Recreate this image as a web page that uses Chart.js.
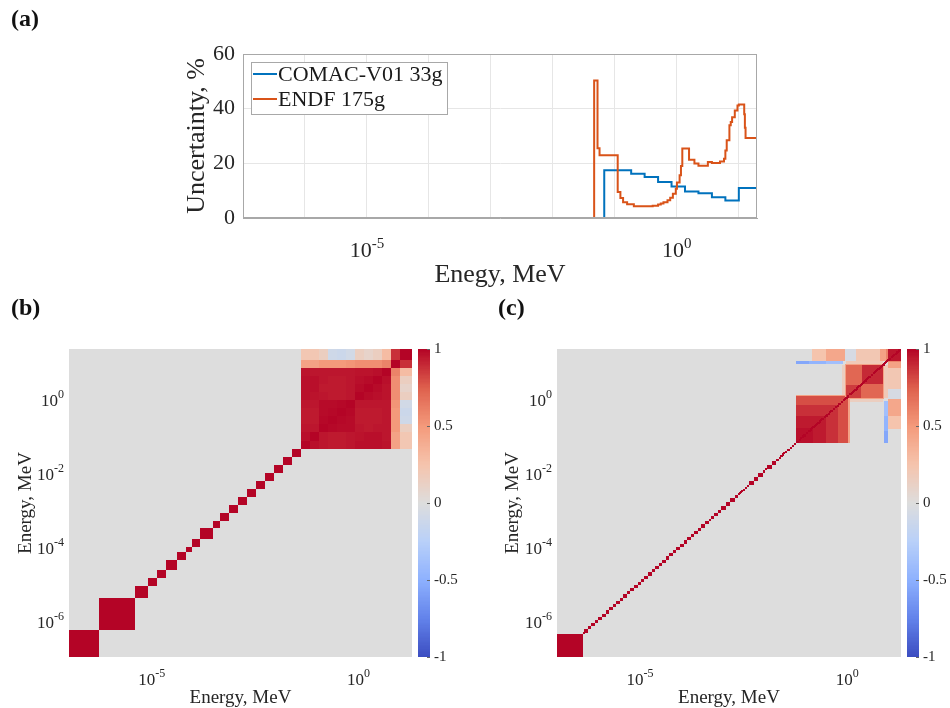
<!DOCTYPE html>
<html><head><meta charset="utf-8">
<script src="https://cdn.jsdelivr.net/npm/chart.js@4.4.1/dist/chart.umd.min.js"></script>
<style>
html,body{margin:0;padding:0;background:#fff;overflow:hidden;}
#wrap{position:relative;width:950px;height:708px;background:#fff;}
#wrap canvas{position:absolute;}
.plab{position:absolute;font-family:'Liberation Serif','DejaVu Serif',serif;font-weight:bold;font-size:24px;line-height:24px;color:#111;}
</style></head>
<body><div id="wrap">
<canvas id="cA" width="950" height="300" style="left:0;top:0"></canvas>
<canvas id="cB" width="480" height="418" style="left:0;top:290px"></canvas>
<canvas id="cC" width="470" height="418" style="left:480px;top:290px"></canvas>
<div class="plab" style="left:11px;top:6px">(a)</div>
<div class="plab" style="left:11px;top:295px">(b)</div>
<div class="plab" style="left:498px;top:295px">(c)</div>
</div>
<script>
// ---------------- DATA ----------------
// (a) group-wise uncertainty, stairs: lower group edge (MeV) -> uncertainty (%)
const energyCOMAC = [1e-7, 0.067379, 0.11109, 0.18316, 0.30197, 0.49787, 0.82085, 1.3534, 2.2313, 3.6788, 6.0653, 10.0, 19.64];
const uncCOMAC    = [0,    17.5,     17.5,    16.2,    15.0,    13.2,    11.5,    9.7,    9.1,    7.6,    6.4,    11.0, 15.0];
const energyENDF  = [1e-7, 0.046309, 0.052475, 0.056562, 0.11109, 0.12277, 0.13569, 0.15764, 0.20242, 0.40762, 0.49787, 0.55023, 0.6081, 0.70651, 0.78082, 0.86294, 0.96164, 1.0026, 1.108, 1.1648, 1.2246, 1.5724, 1.9205, 2.2313, 3.1664, 3.6788, 4.9659, 5.7695, 6.0653, 6.3763, 7.0469, 7.4082, 7.788, 8.6071, 9.5123, 10.0, 12.214, 12.523, 12.84, 19.64];
const uncENDF     = [0,    50.3,     25.5,     23.0,     9.5,     7.3,     5.8,     5.0,     4.3,     4.5,     4.9,     5.3,     5.8,    6.5,     7.4,     8.9,     10.7,    13.0,   15.6,  19.0,   25.4,   21.3,   19.9,   19.1,   20.5,   20.1,   20.7,   21.7,   24.7,   28.4,   33.9,   35.1,   36.9,  39.3,   41.2,   41.5, 38.0,   33.0,   29.3, 29.0];
const seriesNames = ['COMAC-V01 33g', 'ENDF 175g'];

// tick labels
const gridDecadesA = [1e-7, 1e-6, 1e-5, 1e-4, 1e-3, 1e-2, 1e-1, 1, 10];
const xTickLabelsA = [1e-5, 1];
const yTicksA = [0, 20, 40, 60];
const xTicksHeat = [1e-5, 1];
const yTicksHeat = [1e-6, 1e-4, 1e-2, 1];
const cbTicks = [-1, -0.5, 0, 0.5, 1];
const energyMin = 1e-7, energyMax = 19.64;

// (b) 33-group edges (eV), identity below 40.9 keV, correlated block above
const edgesB_eV = [1e-5, 0.1, 0.54, 4.0, 8.3153, 13.71, 22.603, 40.169, 67.904, 91.661, 148.63, 304.32, 454.0, 748.52, 1234.1, 2034.7, 3354.6, 5530.8, 9118.8, 15034, 24788, 40868, 67379, 111090, 183160, 301970, 497870, 820850, 1353400, 2231300, 3678800, 6065300, 1.0e7, 1.964e7];
const blockStartB = 21; // first group of correlated block
const corrBlockB = [
  [1.00, 0.97, 0.95, 0.94, 0.94, 0.95, 0.97, 0.97, 0.97, 0.96, 0.45, 0.22],
  [0.97, 1.00, 0.95, 0.94, 0.94, 0.95, 0.96, 0.97, 0.97, 0.95, 0.45, 0.22],
  [0.95, 0.95, 1.00, 0.99, 0.98, 0.98, 0.95, 0.94, 0.95, 0.95, 0.50, 0.15],
  [0.94, 0.94, 0.99, 1.00, 0.99, 0.98, 0.94, 0.94, 0.94, 0.95, 0.50, -0.10],
  [0.94, 0.94, 0.98, 0.99, 1.00, 0.99, 0.94, 0.94, 0.94, 0.95, 0.50, -0.12],
  [0.95, 0.95, 0.98, 0.98, 0.99, 1.00, 0.95, 0.95, 0.95, 0.95, 0.52, -0.08],
  [0.97, 0.96, 0.95, 0.94, 0.94, 0.95, 1.00, 0.98, 0.97, 0.96, 0.55, 0.15],
  [0.97, 0.97, 0.94, 0.94, 0.94, 0.95, 0.98, 1.00, 0.98, 0.96, 0.55, 0.10],
  [0.97, 0.97, 0.95, 0.94, 0.94, 0.95, 0.97, 0.98, 1.00, 0.97, 0.55, 0.15],
  [0.96, 0.95, 0.95, 0.95, 0.95, 0.95, 0.96, 0.96, 0.97, 1.00, 0.60, 0.30],
  [0.45, 0.45, 0.50, 0.50, 0.50, 0.52, 0.55, 0.55, 0.55, 0.60, 1.00, 0.88],
  [0.22, 0.22, 0.15, -0.10, -0.12, -0.08, 0.15, 0.10, 0.15, 0.30, 0.88, 1.00]
];
const selfCorr = 1;

// (c) 175-group edges (eV)
const edgesC_eV = [1e-5, 0.41399, 0.4536, 0.5526, 0.6732, 0.8201, 0.99909, 1.2171, 1.4828, 1.8064, 2.2007, 2.6809, 3.2661, 3.9789, 4.8473, 5.9053, 7.1941, 8.7643, 10.677, 12.829, 15.629, 19.04, 23.195, 28.257, 34.425, 41.937, 51.09, 62.241, 75.826, 92.379, 112.54, 137.1, 168.32, 205.05, 249.8, 304.32, 370.74, 454.0, 504.35, 614.42, 748.52, 911.88, 1170.9, 1503.4, 1930.5, 2248.7, 2485.2, 2612.6, 2746.5, 3035.4, 3354.6, 3707.4, 4307.4, 5530.8, 7101.7, 9118.8, 10595, 11709, 15034, 19305, 21875, 23579, 24176, 24788, 26058, 27000, 28501, 31828, 34307, 40868, 46309, 52475, 56562, 67379, 71998, 79499, 82503, 86517, 98037, 111090, 116790, 122770, 129070, 135690, 142640, 149960, 157640, 165730, 174220, 183160, 192550, 202420, 212800, 223710, 235180, 247240, 273240, 287250, 294520, 297210, 298490, 301970, 333730, 368830, 387740, 407620, 450490, 497870, 550230, 608100, 706510, 780820, 820850, 862940, 907180, 961640, 1002600, 1108000, 1164800, 1224600, 1287300, 1353400, 1422700, 1495700, 1572400, 1653000, 1737700, 1826800, 1920500, 2019000, 2122500, 2231300, 2306900, 2345700, 2365300, 2385200, 2466000, 2592400, 2725300, 2865000, 3011900, 3166400, 3328700, 3678800, 4065700, 4493300, 4723700, 4965900, 5220500, 5488100, 5769500, 6065300, 6376300, 6592400, 6703200, 7046900, 7408200, 7788000, 8187300, 8607100, 9048400, 9512300, 10000000, 11052000, 12214000, 12523000, 12840000, 13840000, 14550000, 14918000, 15683000, 16487000, 16905000, 17333000, 19640000];
// (c) off-diagonal correlation regions [xLo, xHi, yLo, yHi (MeV), correlation] (matrix symmetric)
const regionsC = [
  [0.14, 0.3, 9.6, 19.64, 0.25],
  [0.3, 0.9, 9.6, 19.64, 0.42],
  [0.9, 1.6, 9.6, 19.64, -0.05],
  [1.6, 6.0, 9.6, 19.64, 0.22],
  [6.0, 9.6, 9.6, 19.64, 0.45],
  [7.3, 9.6, 0.95, 7.3, 0.20],
  [0.95, 7.3, 0.75, 0.95, 0.15],
  [0.0566, 1.15, 0.0566, 1.15, 0.45],
  [0.0566, 1.05, 0.0566, 1.05, 0.80],
  [0.0566, 0.6, 0.0566, 0.6, 0.88],
  [0.0566, 0.3, 0.0566, 0.3, 0.94],
  [0.0566, 0.15, 0.0566, 0.15, 0.97],
  [0.88, 7.8, 0.88, 7.8, 0.45],
  [0.95, 7.3, 0.95, 7.3, 0.72],
  [0.95, 2.1, 0.95, 2.1, 0.85],
  [2.3, 7.3, 2.3, 7.3, 0.90],
  [8.6, 19.64, 8.6, 19.64, 0.60],
  [9.6, 19.64, 9.6, 19.64, 0.95],
  [0.0566, 0.12, 7.8, 9.6, -0.55],
  [0.12, 0.3, 7.8, 9.6, -0.47],
  [0.3, 0.8, 7.8, 9.6, -0.38]
];

// ---------------- STYLE ----------------
const FONT = "'Liberation Serif','DejaVu Serif',serif";
Chart.defaults.font.family = FONT;
Chart.defaults.color = '#262626';
Chart.defaults.animation = false;
const coolwarm = [[59,76,192],[98,130,234],[141,176,254],[184,208,249],[221,221,221],[245,196,173],[244,154,123],[222,96,77],[180,4,38]];
function corrColor(v){
  let t = Math.max(0, Math.min(1, (v + 1) / 2)) * 8;
  const i = Math.min(7, Math.floor(t)), f = t - i, a = coolwarm[i], b = coolwarm[i+1];
  return 'rgb(' + Math.round(a[0]+(b[0]-a[0])*f) + ',' + Math.round(a[1]+(b[1]-a[1])*f) + ',' + Math.round(a[2]+(b[2]-a[2])*f) + ')';
}

// power-of-ten tick labels "10" with raised exponent, placed through the scales
function powTicks(specs){
  return {
    id: 'powTicks',
    afterDraw(chart){
      const ctx = chart.ctx;
      ctx.save();
      ctx.fillStyle = '#262626'; ctx.textBaseline = 'alphabetic'; ctx.textAlign = 'left';
      specs.forEach(sp => {
        const sc = chart.scales[sp.axis];
        sp.values.forEach(v => {
          const e = String(Math.round(Math.log10(v)));
          ctx.font = sp.base + 'px ' + FONT; const wb = ctx.measureText('10').width;
          ctx.font = sp.exp + 'px ' + FONT; const we = ctx.measureText(e).width;
          const p = sc.getPixelForValue(v);
          let x0, yb;
          if (sc.isHorizontal()) { x0 = p - (wb + we) / 2; yb = sc.top + sp.offset; }
          else { x0 = sc.right - sp.offset - (wb + we); yb = p + sp.shift; }
          ctx.font = sp.base + 'px ' + FONT; ctx.fillText('10', x0, yb);
          ctx.font = sp.exp + 'px ' + FONT; ctx.fillText(e, x0 + wb, yb - sp.raise);
        });
      });
      ctx.restore();
    }
  };
}

// ---------------- (a) ----------------
const frameLegendPlugin = {
  id: 'frameLegend',
  afterDatasetsDraw(chart){
    const {ctx, chartArea: ca} = chart;
    ctx.save();
    ctx.strokeStyle = '#a8a8a8'; ctx.lineWidth = 1;
    ctx.strokeRect(Math.round(ca.left) + 0.5, Math.round(ca.top) + 0.5, Math.round(ca.right - ca.left) - 1, Math.round(ca.bottom - ca.top) - 1);
    const bx = Math.round(ca.left) + 8, by = Math.round(ca.top) + 8, bw = 196, bh = 52;
    ctx.fillStyle = '#fff'; ctx.fillRect(bx, by, bw, bh);
    ctx.strokeRect(bx + 0.5, by + 0.5, bw, bh);
    ctx.font = '22px ' + FONT; ctx.textBaseline = 'middle'; ctx.textAlign = 'left';
    chart.data.datasets.forEach((ds, i) => {
      const yy = by + 12 + i * 25;
      ctx.strokeStyle = ds.borderColor; ctx.lineWidth = 2;
      ctx.beginPath(); ctx.moveTo(bx + 2, yy); ctx.lineTo(bx + 26, yy); ctx.stroke();
      ctx.fillStyle = '#1a1a1a'; ctx.fillText(ds.label, bx + 27, yy + 1);
    });
    ctx.restore();
  }
};
new Chart(document.getElementById('cA'), {
  type: 'line',
  data: { datasets: [
    { label: seriesNames[0], data: energyCOMAC.map((e, i) => ({x: e, y: uncCOMAC[i]})), borderColor: '#0072BD', backgroundColor: '#0072BD', borderWidth: 2, pointRadius: 0, stepped: 'before', fill: false, order: 1 },
    { label: seriesNames[1], data: energyENDF.map((e, i) => ({x: e, y: uncENDF[i]})), borderColor: '#D95319', backgroundColor: '#D95319', borderWidth: 2, pointRadius: 0, stepped: 'before', fill: false, order: 0 }
  ]},
  options: {
    responsive: false, animation: false, events: [],
    layout: { padding: { left: 182, right: 193, top: 54, bottom: 9 } },
    plugins: { legend: { display: false }, tooltip: { enabled: false } },
    scales: {
      x: { type: 'logarithmic', min: energyMin, max: energyMax,
        afterBuildTicks: s => { s.ticks = gridDecadesA.map(v => ({value: v})); },
        afterFit: s => { s.height = 73; },
        ticks: { display: false, autoSkip: false },
        grid: { color: '#e6e6e6', drawTicks: false }, border: { color: '#a8a8a8' },
        title: { display: true, text: 'Enegy, MeV', font: { size: 26 }, padding: 0 } },
      y: { type: 'linear', min: 0, max: 60,
        afterBuildTicks: s => { s.ticks = yTicksA.map(v => ({value: v})); },
        afterFit: s => { s.width = 61; },
        ticks: { padding: 8, font: { size: 22 } },
        grid: { color: '#e6e6e6', drawTicks: false }, border: { color: '#a8a8a8' },
        title: { display: true, text: 'Uncertainty, %', font: { size: 26 }, padding: 0 } }
    }
  },
  plugins: [frameLegendPlugin, powTicks([{ axis: 'x', values: xTickLabelsA, base: 22, exp: 15, offset: 39, raise: 9 }])]
});

// ---------------- heatmaps ----------------
function heatChart(id, pad, yW, cbW, drawCells){
  return new Chart(document.getElementById(id), {
    type: 'scatter', data: { datasets: [] },
    options: {
      responsive: false, animation: false, events: [],
      layout: { padding: pad },
      plugins: { legend: { display: false }, tooltip: { enabled: false } },
      scales: {
        x: { type: 'logarithmic', position: 'bottom', min: energyMin, max: energyMax, display: true,
          afterBuildTicks: s => { s.ticks = xTicksHeat.map(v => ({value: v})); },
          afterFit: s => { s.height = 51; },
          ticks: { display: false },
          grid: { display: false, drawTicks: false }, border: { display: false },
          title: { display: true, text: 'Energy, MeV', font: { size: 19, lineHeight: 1 }, padding: 0 } },
        y: { type: 'logarithmic', position: 'left', min: energyMin, max: energyMax, display: true,
          afterBuildTicks: s => { s.ticks = yTicksHeat.map(v => ({value: v})); },
          afterFit: s => { s.width = yW; },
          ticks: { display: false },
          grid: { display: false, drawTicks: false }, border: { display: false },
          title: { display: true, text: 'Energy, MeV', font: { size: 19 }, padding: 0 } },
        cb: { type: 'linear', position: 'right', min: -1, max: 1, display: true,
          afterBuildTicks: s => { s.ticks = cbTicks.map(v => ({value: v})); },
          afterFit: s => { s.width = cbW; },
          ticks: { padding: 22, font: { size: 15 }, callback: v => String(v) },
          grid: { display: false, drawTicks: false }, border: { display: false } }
      }
    },
    plugins: [{
      id: 'heat',
      beforeDatasetsDraw(chart){
        const {ctx, chartArea: ca, scales} = chart;
        const xs = scales.x, ys = scales.y;
        ctx.save();
        ctx.beginPath(); ctx.rect(ca.left, ca.top, ca.right - ca.left, ca.bottom - ca.top); ctx.clip();
        ctx.fillStyle = corrColor(0); ctx.fillRect(ca.left, ca.top, ca.right - ca.left, ca.bottom - ca.top);
        const cell = (x0, x1, y0, y1, r) => {
          let a = Math.round(xs.getPixelForValue(x0)), b = Math.round(xs.getPixelForValue(x1));
          let c = Math.round(ys.getPixelForValue(y1)), d = Math.round(ys.getPixelForValue(y0));
          if (b - a < 2) b = a + 2; if (d - c < 2) c = d - 2;
          ctx.fillStyle = corrColor(r); ctx.fillRect(a, c, b - a, d - c);
        };
        drawCells(cell);
        ctx.restore();
      },
      afterDraw(chart){
        const {ctx, chartArea: ca, scales} = chart;
        const cb = scales.cb, x0 = Math.round(ca.right) + 6, w = 12, n = 240;
        ctx.save();
        for (let k = 0; k < n; k++) {
          const v0 = -1 + 2 * k / n, v1 = -1 + 2 * (k + 1) / n;
          const p0 = cb.getPixelForValue(v0), p1 = cb.getPixelForValue(v1);
          ctx.fillStyle = corrColor((v0 + v1) / 2);
          ctx.fillRect(x0, Math.floor(p1), w, Math.ceil(p0) - Math.floor(p1));
        }
        ctx.strokeStyle = '#666'; ctx.lineWidth = 1;
        cbTicks.forEach(v => { const p = Math.round(cb.getPixelForValue(v)) + 0.5; ctx.beginPath(); ctx.moveTo(x0 + w - 3, p); ctx.lineTo(x0 + w, p); ctx.stroke(); });
        ctx.restore();
      }
    }, powTicks([
      { axis: 'x', values: xTicksHeat, base: 17, exp: 12, offset: 28, raise: 8 },
      { axis: 'y', values: yTicksHeat, base: 17, exp: 12, offset: 5, shift: 8.5, raise: 8 }
    ])]
  });
}

const edgesB = edgesB_eV.map(e => e / 1e6);
const edgesC = edgesC_eV.map(e => e / 1e6);

heatChart('cB', { left: 15, right: 8, top: 59, bottom: 0 }, 54, 60, cell => {
  for (let i = 0; i < corrBlockB.length; i++)
    for (let j = 0; j < corrBlockB.length; j++)
      cell(edgesB[blockStartB + j], edgesB[blockStartB + j + 1], edgesB[blockStartB + i], edgesB[blockStartB + i + 1], corrBlockB[i][j]);
  for (let g = 0; g < blockStartB; g++) cell(edgesB[g], edgesB[g + 1], edgesB[g], edgesB[g + 1], selfCorr);
});

heatChart('cC', { left: 22, right: 4, top: 59, bottom: 0 }, 55, 45, cell => {
  regionsC.forEach(([x0, x1, y0, y1, r]) => { cell(x0, x1, y0, y1, r); cell(y0, y1, x0, x1, r); });
  for (let g = 0; g < edgesC.length - 1; g++) cell(edgesC[g], edgesC[g + 1], edgesC[g], edgesC[g + 1], selfCorr);
});
</script>
</body></html>
